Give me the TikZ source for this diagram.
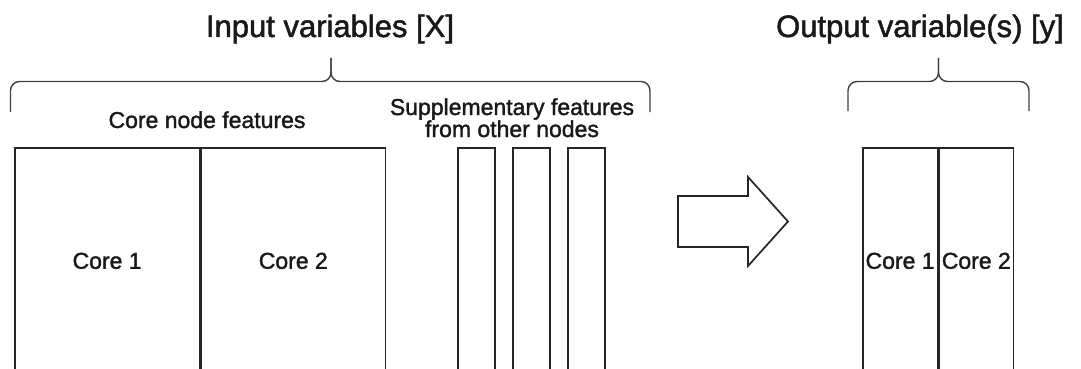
\documentclass[tikz,border=0pt]{standalone}
\usepackage{fontspec}
\setmainfont{Liberation Sans}[FakeBold=1.6,BoldFont=Liberation Sans]
\usetikzlibrary{positioning}
\tikzstyle{cell}=[draw=black!85,line width=1.7pt,anchor=north west,minimum height=226pt,inner sep=0pt,text=black!90,font=\fontsize{23}{22}\selectfont\bfseries]
\tikzstyle{corecell}=[cell,minimum width=184.5pt]
\tikzstyle{thincell}=[cell,minimum width=37pt]
\tikzstyle{outcell}=[cell,minimum width=74.5pt]
\tikzstyle{bracket}=[draw=black!75,line width=1.4pt,rounded corners=9pt]
\tikzstyle{heading}=[anchor=base,text=black!90,font=\fontsize{31}{37}\selectfont\bfseries]
\tikzstyle{subheading}=[anchor=base,text=black!90,align=center,font=\fontsize{23}{22}\selectfont\bfseries]
\tikzstyle{bigarrow}=[draw=black!85,line width=1.7pt,line join=miter]

\begin{document}
\begin{tikzpicture}[x=1pt,y=-1pt]
    \useasboundingbox (0,0) rectangle (1081,369);
    \clip (0,0) rectangle (1081,369);

    % input side: core cells and supplementary columns
    \node[corecell] (core1) at (14,147) {Core 1};
    \node[corecell,right=0pt of core1] (core2) {Core 2};
    \foreach \n/\x in {1/457,2/512,3/567}
        \node[thincell] (sup\n) at (\x,147) {};

    \node[subheading] (corefeat) at (207,128) {Core node features};
    \node[subheading] (supfeat) at (512,137) {Supplementary features\\from other nodes};

    % brace over the inputs
    \coordinate (inmid) at (331,81.5);
    \coordinate (intip) at (331,58);
    \coordinate (inleft) at (10.5,112);
    \coordinate (inright) at (650,112);
    \draw[bracket] (inleft) |- (inmid) -- (intip);
    \draw[bracket] (inright) |- (inmid) -- (intip);
    \node[heading] (intitle) at (330,37) {Input variables [X]};

    % block arrow
    \coordinate (arr) at (678,221.5);
    \draw[bigarrow] (arr) ++(0,-25.5) -- ++(70,0) -- ++(0,-19) -- ++(40,44.5)
        -- ++(-40,44.5) -- ++(0,-19) -- ++(-70,0) -- cycle;

    % output side
    \node[outcell] (out1) at (862,147) {Core 1};
    \node[outcell,right=0pt of out1] (out2) {Core 2};

    \coordinate (outmid) at (938.5,81.5);
    \coordinate (outtip) at (938.5,58);
    \coordinate (outleft) at (848,111);
    \coordinate (outright) at (1029,111);
    \draw[bracket] (outleft) |- (outmid) -- (outtip);
    \draw[bracket] (outright) |- (outmid) -- (outtip);
    \node[heading] (outtitle) at (920,37) {Output variable(s) [y]};
\end{tikzpicture}
\end{document}
